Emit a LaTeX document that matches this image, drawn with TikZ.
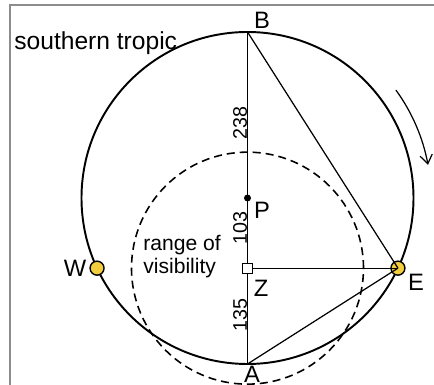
\documentclass[tikz,border=0pt]{standalone}
\usepackage{fontspec}
\setmainfont{Liberation Sans}
\usetikzlibrary{arrows.meta,calc}
\definecolor{sunyellow}{HTML}{F2CE3C}
\begin{document}
\begin{tikzpicture}[x=0.02cm,y=0.02cm,
  thinline/.style={line width=0.7pt},
  thickline/.style={line width=1.1pt},
  lbl/.style={inner sep=0pt,font=\fontsize{13.5}{15}\selectfont},
  numlbl/.style={inner sep=0pt,rotate=90,font=\fontsize{11.2}{13}\selectfont},
  txt/.style={inner sep=0pt,anchor=west,font=\fontsize{12}{14}\selectfont},
  sun/.style={circle,draw=black,line width=0.8pt,fill=sunyellow,minimum size=14*0.02cm,inner sep=0pt},
  framecol/.style={draw=gray!90,line width=1pt}]
\useasboundingbox (0,0) rectangle (434,385);
% frame
\draw[framecol] (10,0) -- (10,380) -- (434,380);
% geometry
\coordinate (O) at (247.5,187);
\coordinate (B) at ($(O)+(90:166)$);
\coordinate (A) at ($(O)+(270:166)$);
\coordinate (W) at ($(O)+(205:166)$);
\coordinate (E) at ($(O)+(-25:166)$);
\coordinate (P) at (O);
\coordinate (Z) at (O |- E);
% circles
\draw[thickline] (O) circle[radius=166];
\draw[line width=0.9pt,dash pattern=on 8*0.02cm off 5*0.02cm] (Z) circle[radius=116];
% suns
\node[sun] (Wsun) at (W) {};
\node[sun] (Esun) at (E) {};
% lines
\draw[thinline] (B) -- (A);
\draw[thinline] (B) -- (E);
\draw[thinline] (Z) -- (E);
\draw[thinline] (A) -- (E);
\node[draw,thinline,fill=white,minimum size=10*0.02cm,inner sep=0pt] (Zbox) at (Z) {};
\fill (P) circle[radius=3.5];
% rotation arrow
\coordinate (R1) at ($(O)+(36:183.5)$);
\draw[thinline,-{Straight Barb[length=5pt,width=7pt]}] (R1) arc[start angle=36,end angle=10.4,radius=183.5];
% labels
\node[lbl] (Bl) at (262,365) {B};
\node[lbl] (Al) at (252,11) {A};
\node[lbl] (Pl) at (262,175) {P};
\node[lbl] (Zl) at (261,97) {Z};
\node[lbl] (El) at (416,103) {E};
\node[lbl] (Wl) at (75,117) {W};
\node[numlbl] (n1) at (240,262) {238};
\node[numlbl] (n2) at (240,157) {103};
\node[numlbl] (n3) at (240,70) {135};
\node[txt,font=\fontsize{14}{16}\selectfont] (st) at (14,342) {southern tropic};
\node[txt] (r1) at (143,140) {range of};
\node[txt] (r2) at (143,117) {visibility};
\end{tikzpicture}
\end{document}
